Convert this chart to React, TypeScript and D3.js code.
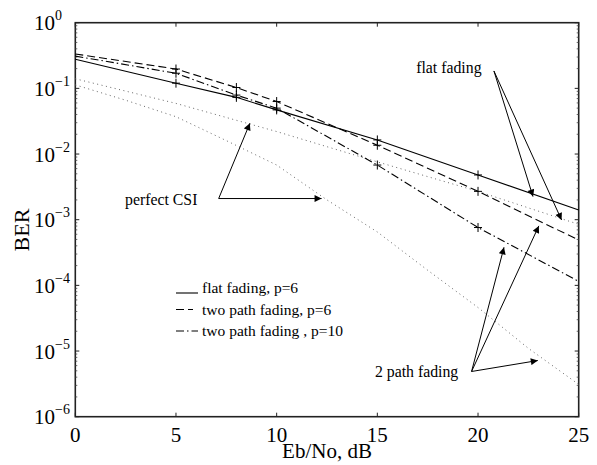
import React from 'react';
import * as d3 from 'd3';

// Eb/No points (dB) of the simulated curves
const ebno = [0, 5, 8, 10, 15, 20, 25];
const flatP6 = [0.277, 0.12, 0.073, 0.047, 0.0164, 0.0048, 0.0014];
const twoPathP6 = [0.334, 0.197, 0.103, 0.063, 0.0136, 0.0027, 0.00049];
const twoPathP10 = [0.31, 0.17, 0.079, 0.05, 0.0068, 0.00076, 0.000115];
const markerEbno = [5, 8, 10, 15, 20];

// perfect CSI curves (dotted)
const csiEbnoFlat = [0, 5, 10, 15, 20, 25];
const csiFlat = [0.14, 0.059, 0.022, 0.0076, 0.0027, 0.00085];
const csiEbnoTwo = [0, 2.5, 5, 7.5, 10, 12.5, 15, 17.5, 20, 22.5, 25];
const csiTwoPath = [0.113, 0.066, 0.037, 0.016, 0.0068, 0.002, 0.00065, 0.00017, 0.000046, 0.000011, 0.0000031];

const xTicks = [0, 5, 10, 15, 20, 25];
const yExponents = [0, -1, -2, -3, -4, -5, -6];

const legendLabels = ['flat fading, p=6', 'two path fading, p=6', 'two path fading , p=10'];

// annotations, in data units
const notes = [
  { text: 'flat fading', at: [16.93, 0.171], from: [20.79, 0.184], to: [[22.73, 0.00225], [24.15, 0.00099]] },
  { text: 'perfect CSI', at: [2.47, 0.00168], from: [7.12, 0.0021], to: [[8.67, 0.0294], [12.23, 0.0021]] },
  { text: '2 path fading', at: [14.88, 4.05e-6], from: [19.68, 4.88e-6], to: [[21.29, 3.8e-4], [23.02, 8.05e-4], [22.97, 7.17e-6]] },
];

const W = 597, H = 465;
const x = d3.scaleLinear().domain([0, 25]).range([75.3, 578.7]);
const y = d3.scaleLog().domain([1e-6, 1]).range([416.7, 22.7]);

const serif = "'Liberation Serif', 'Times New Roman', 'DejaVu Serif', serif";

export default function App() {
  const line = d3.line<[number, number]>()
    .x((d) => x(d[0]))
    .y((d) => y(d[1]));

  const series = [
    { vals: flatP6, dash: 'none' },
    { vals: twoPathP6, dash: '8,4' },
    { vals: twoPathP10, dash: '8,3,1.5,3' },
  ];

  const minor: number[] = [];
  yExponents.slice(0, -1).forEach((e) => {
    for (let k = 2; k <= 9; k++) minor.push(k * Math.pow(10, e - 1));
  });

  const [x0, x1] = x.range();
  const [y0, y1] = y.range();

  return (
    <svg width={W} height={H} style={{ position: 'absolute', left: 0, top: 0, background: '#fff' }}
      fontFamily={serif}>
      <defs>
        <marker id="arr" viewBox="0 0 10 10" refX="10" refY="5" markerWidth="9" markerHeight="7"
          markerUnits="userSpaceOnUse" orient="auto">
          <path d="M0,0 L10,5 L0,10 z" fill="#000" />
        </marker>
      </defs>

      {/* frame */}
      <rect x={x0} y={y1} width={x1 - x0} height={y0 - y1} fill="none" stroke="#222" strokeWidth={1.6} />

      {/* x ticks */}
      {xTicks.map((t) => (
        <g key={'xt' + t}>
          <line x1={x(t)} x2={x(t)} y1={y0} y2={y0 - 4} stroke="#222" />
          <line x1={x(t)} x2={x(t)} y1={y1} y2={y1 + 4} stroke="#222" />
          <text x={x(t)} y={442} textAnchor="middle" fontSize={21}>{t}</text>
        </g>
      ))}

      {/* y ticks */}
      {yExponents.map((e) => {
        const v = Math.pow(10, e);
        return (
          <g key={'yt' + e}>
            <line x1={x0} x2={x0 + 4} y1={y(v)} y2={y(v)} stroke="#222" />
            <line x1={x1} x2={x1 - 4} y1={y(v)} y2={y(v)} stroke="#222" />
            <text x={34} y={y(v) + 7.5} fontSize={21}>
              10<tspan fontSize={14} dy={-10}>{e === 0 ? '0' : '\u2212' + Math.abs(e)}</tspan>
            </text>
          </g>
        );
      })}
      {minor.map((v, i) => (
        <g key={'mn' + i}>
          <line x1={x0} x2={x0 + 2} y1={y(v)} y2={y(v)} stroke="#444" strokeWidth={0.8} />
          <line x1={x1} x2={x1 - 2} y1={y(v)} y2={y(v)} stroke="#444" strokeWidth={0.8} />
        </g>
      ))}

      {/* axis labels */}
      <text x={327} y={458} textAnchor="middle" fontSize={21}>Eb/No, dB</text>
      <text transform={`translate(29,230) rotate(-90)`} textAnchor="middle" fontSize={22}>BER</text>

      {/* perfect CSI curves */}
      <path d={line(csiEbnoFlat.map((e, i) => [e, csiFlat[i]]) as any) || ''} fill="none"
        stroke="#666" strokeWidth={1} strokeDasharray="1,3.5" />
      <path d={line(csiEbnoTwo.map((e, i) => [e, csiTwoPath[i]]) as any) || ''} fill="none"
        stroke="#666" strokeWidth={1} strokeDasharray="1,3.5" />

      {/* simulated curves */}
      {series.map((s, si) => (
        <g key={'s' + si}>
          <path d={line(ebno.map((e, i) => [e, s.vals[i]]) as any) || ''} fill="none" stroke="#000"
            strokeWidth={1.1} strokeDasharray={s.dash} />
          {markerEbno.map((m) => {
            const v = s.vals[ebno.indexOf(m)];
            return (
              <path key={m} d={`M${x(m) - 4},${y(v)}h8M${x(m)},${y(v) - 4.5}v9`} stroke="#000" strokeWidth={1} />
            );
          })}
        </g>
      ))}

      {/* legend */}
      {legendLabels.map((lab, i) => {
        const ly = 293 + i * 21.5;
        return (
          <g key={'lg' + i}>
            <line x1={176} x2={i === 1 ? 193 : 198} y1={i === 0 ? ly : ly - 5} y2={i === 0 ? ly : ly - 5}
              stroke="#000" strokeWidth={1.1} strokeDasharray={series[i].dash} />
            <text x={202} y={ly} fontSize={15.5}>{lab}</text>
          </g>
        );
      })}

      {/* annotations */}
      {notes.map((n, i) => (
        <g key={'nt' + i}>
          <text x={x(n.at[0])} y={y(n.at[1])} fontSize={15.8}>{n.text}</text>
          {n.to.map((t, j) => (
            <line key={j} x1={x(n.from[0])} y1={y(n.from[1])} x2={x(t[0])} y2={y(t[1])}
              stroke="#000" strokeWidth={1} markerEnd="url(#arr)" />
          ))}
        </g>
      ))}
    </svg>
  );
}
